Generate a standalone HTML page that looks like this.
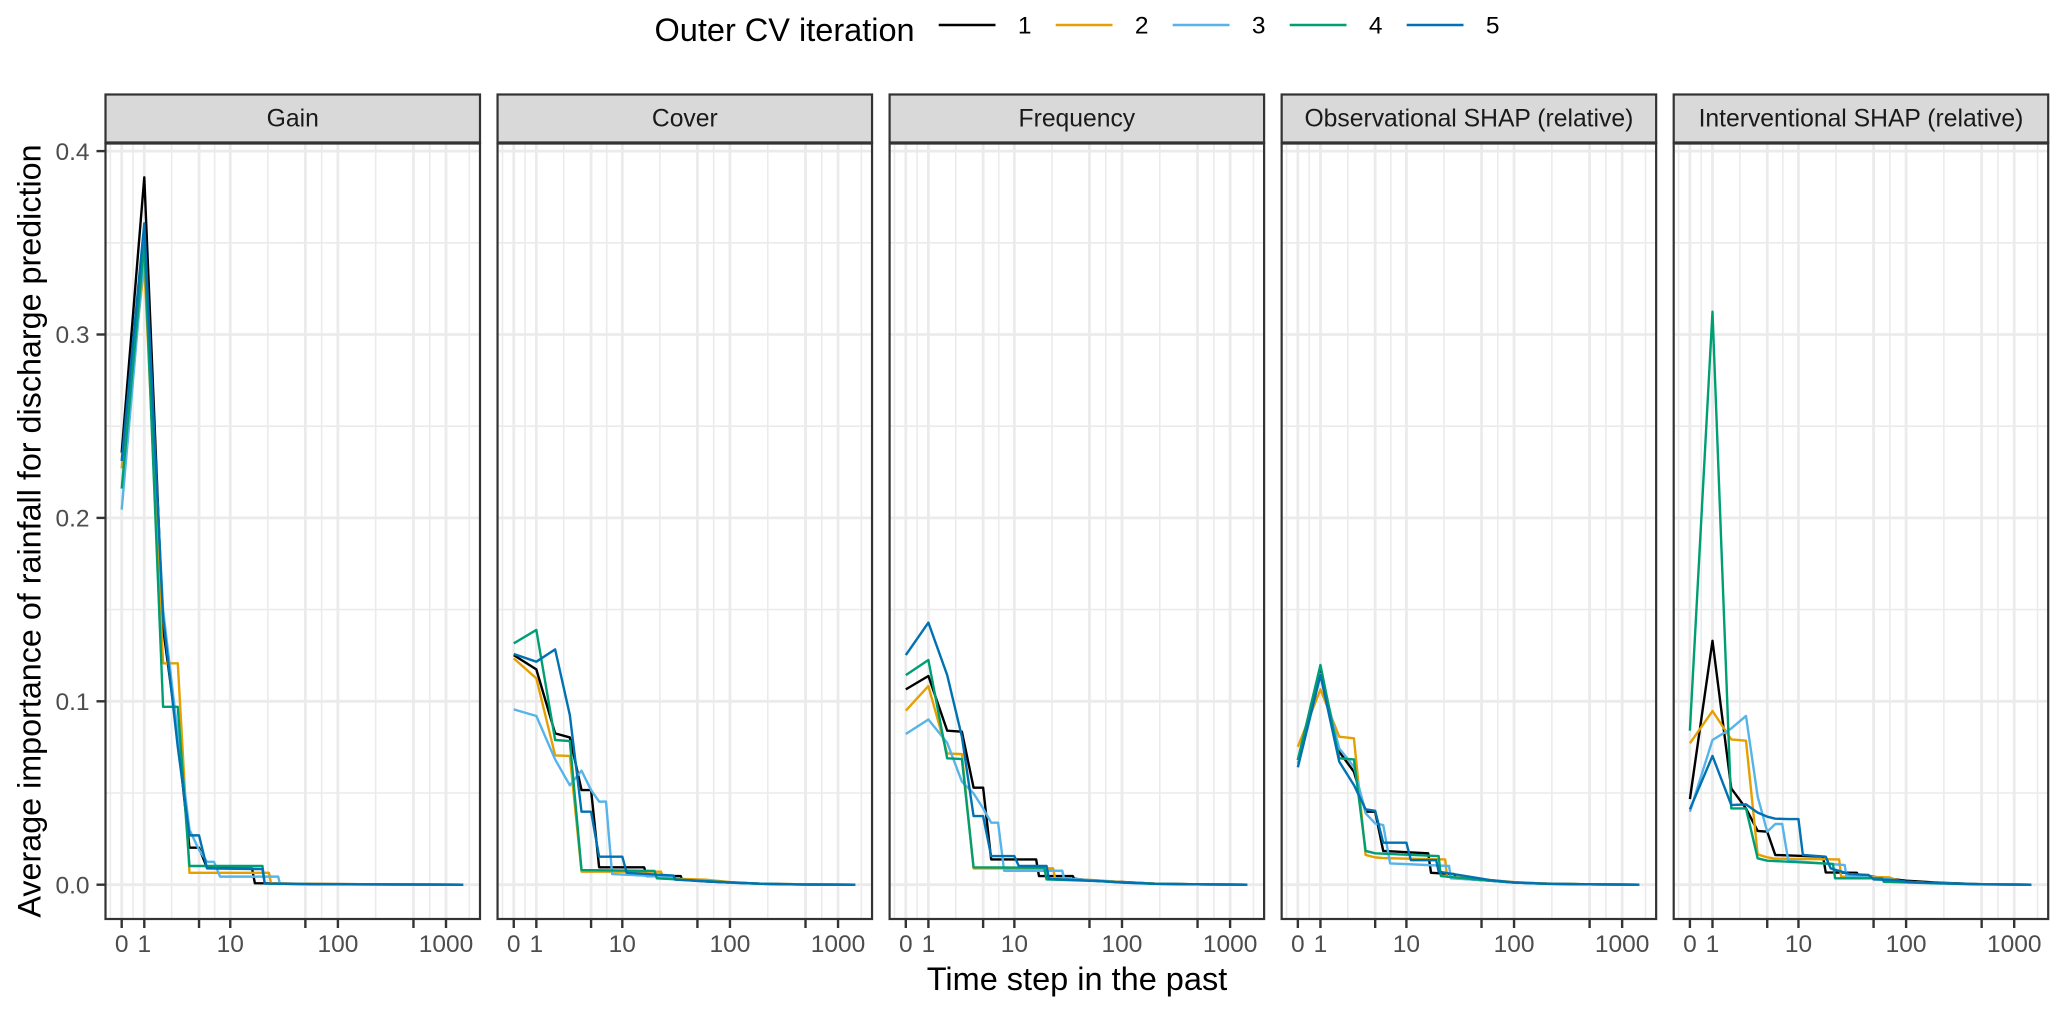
<!DOCTYPE html>
<html lang="en">
<head>
<meta charset="utf-8">
<title>Average importance of rainfall for discharge prediction</title>
<style>
html,body{margin:0;padding:0;background:#fff;}
svg{display:block;font-family:"Liberation Sans",Arial,sans-serif;}
</style>
</head>
<body>
<svg id="chart" xmlns="http://www.w3.org/2000/svg" width="2067" height="1014" viewBox="0 0 2067 1014">
  <text x="654.5" y="41" font-size="32.5" fill="#000">Outer CV iteration</text>
  <text x="1077" y="990" font-size="32.5" fill="#000" text-anchor="middle">Time step in the past</text>
  <text transform="translate(40.5 531) rotate(-90)" font-size="32.3" fill="#000" text-anchor="middle">Average importance of rainfall for discharge prediction</text>
  <g id="panels"></g>
  <g id="legend"></g>
</svg>
<script>
const seriesNames = ['1','2','3','4','5'];
const seriesColors = ['#000000','#E69F00','#56B4E9','#009E73','#0072B2'];
const panelTitles = ['Gain','Cover','Frequency','Observational SHAP (relative)','Interventional SHAP (relative)'];
const xTicks = [0,1,5,10,50,100,500,1000];
const xTickLabels = ['0','1','','10','','100','','1000'];
const yTicks = [0,0.1,0.2,0.3,0.4];
const yTickLabels = ['0.0','0.1','0.2','0.3','0.4'];
const yMinorTicks = [0.05,0.15,0.25,0.35];

const gainSteps1 = [0,1,2,3,4,5,6,16,17,60,1440];
const gainValues1 = [.2356,.3857,.14,.08,.0202,.0202,.0091,.0088,.0008,.0004,0];
const gainSteps2 = [0,1,2,3,4,23,24,60,1440];
const gainValues2 = [.227,.338,.1207,.1207,.0065,.0065,.0008,.0004,0];
const gainSteps3 = [0,1,2,3,4,5,6,7,8,28,29,60,1440];
const gainValues3 = [.2045,.345,.15,.082,.03,.019,.0125,.0125,.0044,.0044,.0006,.0003,0];
const gainSteps4 = [0,1,2,3,4,20,21,60,1440];
const gainValues4 = [.216,.35,.097,.097,.0102,.0102,.0006,.0003,0];
const gainSteps5 = [0,1,2,3,4,5,6,20,21,60,1440];
const gainValues5 = [.231,.3606,.146,.075,.0269,.0269,.0089,.0085,.0006,.0003,0];

const coverSteps1 = [0,1,2,3,4,5,6,16,17,35,36,60,100,200,500,1440];
const coverValues1 = [.1252,.1174,.0825,.0803,.0516,.0516,.0095,.0095,.0047,.0047,.0028,.0018,.0012,.0005,.0002,0];
const coverSteps2 = [0,1,2,3,4,23,24,60,100,200,500,1440];
const coverValues2 = [.1234,.1125,.0705,.0702,.0071,.0071,.0035,.0027,.0014,.0005,.0002,0];
const coverSteps3 = [0,1,2,3,4,5,6,7,8,30,31,60,100,200,500,1440];
const coverValues3 = [.0956,.092,.0683,.0542,.0622,.0516,.0453,.0453,.0058,.0042,.0028,.002,.0011,.0005,.0001,0];
const coverSteps4 = [0,1,2,3,4,20,21,60,100,200,500,1440];
const coverValues4 = [.1316,.1389,.0789,.0783,.008,.0075,.0035,.002,.0013,.0005,.0001,0];
const coverSteps5 = [0,1,2,3,4,5,6,10,11,30,31,60,100,200,500,1440];
const coverValues5 = [.1258,.1216,.1283,.0925,.0398,.0398,.0153,.0153,.0065,.005,.0028,.0018,.0012,.0005,.0001,0];

const frequencySteps1 = [0,1,2,3,4,5,6,16,17,35,36,60,100,200,500,1440];
const frequencyValues1 = [.1065,.1138,.084,.0834,.0529,.0529,.0138,.0138,.0047,.0047,.0033,.002,.0015,.0006,.0002,0];
const frequencySteps2 = [0,1,2,3,4,23,24,60,100,200,500,1440];
const frequencyValues2 = [.0949,.1083,.0716,.0712,.0089,.0089,.0035,.0024,.0014,.0006,.0002,0];
const frequencySteps3 = [0,1,2,3,4,5,6,7,8,28,29,60,100,200,500,1440];
const frequencyValues3 = [.0822,.0901,.0774,.0562,.0498,.0416,.0338,.0338,.0076,.0076,.0035,.0022,.0012,.0005,.0002,0];
const frequencySteps4 = [0,1,2,3,4,19,20,60,100,200,500,1440];
const frequencyValues4 = [.1143,.1225,.0689,.0685,.0095,.0092,.0029,.002,.0013,.0005,.0002,0];
const frequencySteps5 = [0,1,2,3,4,5,6,10,11,20,21,60,100,200,500,1440];
const frequencyValues5 = [.1252,.1429,.1143,.0807,.0374,.0374,.0156,.0156,.0102,.0102,.0032,.002,.0012,.0005,.0002,0];

const observationalSteps1 = [0,1,2,3,4,5,6,16,17,28,29,60,100,200,500,1440];
const observationalValues1 = [.068,.117,.0725,.0616,.0398,.0398,.0184,.0171,.0065,.0058,.0035,.0022,.0012,.0006,.0002,0];
const observationalSteps2 = [0,1,2,3,4,5,6,23,24,60,100,200,500,1440];
const observationalValues2 = [.0752,.1065,.0807,.0798,.0162,.0149,.0145,.0138,.0044,.0025,.0014,.0006,.0002,0];
const observationalSteps3 = [0,1,2,3,4,5,6,7,25,26,60,100,200,500,1440];
const observationalValues3 = [.066,.115,.0743,.0643,.0389,.0334,.0325,.0116,.0102,.0035,.0022,.0012,.0005,.0002,0];
const observationalSteps4 = [0,1,2,3,4,5,20,21,60,100,200,500,1440];
const observationalValues4 = [.068,.1198,.0689,.0683,.0184,.0171,.0156,.0047,.0022,.0012,.0005,.0002,0];
const observationalSteps5 = [0,1,2,3,4,5,6,10,11,19,20,60,100,200,500,1440];
const observationalValues5 = [.064,.1143,.0671,.0543,.0411,.0403,.0229,.0229,.0134,.0134,.0071,.0025,.0012,.0005,.0002,0];

const interventionalSteps1 = [0,1,2,3,4,5,6,17,18,35,36,100,200,500,1440];
const interventionalValues1 = [.0467,.133,.0525,.0416,.0293,.0289,.0162,.0153,.0067,.0065,.0053,.0022,.0011,.0003,0];
const interventionalSteps2 = [0,1,2,3,4,5,6,24,25,70,90,200,500,1440];
const interventionalValues2 = [.0771,.0947,.0792,.0785,.0165,.0149,.0142,.0138,.0044,.004,.0016,.0008,.0003,0];
const interventionalSteps3 = [0,1,2,3,4,5,6,7,8,27,28,60,100,200,500,1440];
const interventionalValues3 = [.0398,.0789,.0852,.092,.048,.0289,.0331,.0331,.0131,.0107,.0047,.0035,.0016,.0008,.0003,0];
const interventionalSteps4 = [0,1,2,3,4,5,21,22,60,62,200,500,1440];
const interventionalValues4 = [.084,.3124,.0416,.0416,.0144,.0131,.0113,.0035,.0035,.0016,.0007,.0002,0];
const interventionalSteps5 = [0,1,2,3,4,5,6,8,10,11,18,20,30,45,50,80,100,200,500,1440];
const interventionalValues5 = [.0411,.0702,.0434,.0438,.0393,.0371,.036,.0358,.0358,.0162,.0153,.0089,.0058,.0053,.0029,.0025,.0016,.0008,.0002,0];

const panelSteps = [
  [gainSteps1,gainSteps2,gainSteps3,gainSteps4,gainSteps5],
  [coverSteps1,coverSteps2,coverSteps3,coverSteps4,coverSteps5],
  [frequencySteps1,frequencySteps2,frequencySteps3,frequencySteps4,frequencySteps5],
  [observationalSteps1,observationalSteps2,observationalSteps3,observationalSteps4,observationalSteps5],
  [interventionalSteps1,interventionalSteps2,interventionalSteps3,interventionalSteps4,interventionalSteps5]
];
const panelValues = [
  [gainValues1,gainValues2,gainValues3,gainValues4,gainValues5],
  [coverValues1,coverValues2,coverValues3,coverValues4,coverValues5],
  [frequencyValues1,frequencyValues2,frequencyValues3,frequencyValues4,frequencyValues5],
  [observationalValues1,observationalValues2,observationalValues3,observationalValues4,observationalValues5],
  [interventionalValues1,interventionalValues2,interventionalValues3,interventionalValues4,interventionalValues5]
];

const NS = 'http://www.w3.org/2000/svg';
const AXIS_LEFT = 105.5, PANEL_W = 374.5, PANEL_STEP = 392.05;
const PANEL_TOP = 143, PANEL_BOTTOM = 919, STRIP_TOP = 94.5;
const X_ORIGIN_OFFSET = 16.2, X_PER_UNIT = 108.1;
const Y_ZERO = 884.7, Y_PER_UNIT = 1834;

function pseudoLog(step){ return Math.asinh(step / 2) / Math.LN10; }
function panelLeft(k){ return AXIS_LEFT + k * PANEL_STEP; }
function xFromTrans(t, k){ return panelLeft(k) + X_ORIGIN_OFFSET + X_PER_UNIT * t; }
function xScale(step, k){ return xFromTrans(pseudoLog(step), k); }
function yScale(v){ return Y_ZERO - Y_PER_UNIT * v; }

function make(tag, attrs, parent){
  const el = document.createElementNS(NS, tag);
  for (const key in attrs) el.setAttribute(key, attrs[key]);
  parent.appendChild(el);
  return el;
}

const panelsRoot = document.getElementById('panels');
const legendRoot = document.getElementById('legend');

function minorTrans(){
  const t = xTicks.map(pseudoLog);
  const out = [(t[0] - (t[1] - t[0]) / 2)];
  for (let i = 0; i < t.length - 1; i++) out.push((t[i] + t[i + 1]) / 2);
  out.push(t[t.length - 1] + 0.216);
  return out;
}

panelTitles.forEach(function(title, k){
  const g = make('g', {}, panelsRoot);
  
  
  const left = panelLeft(k);

  const bg = make('rect', {x:left, y:PANEL_TOP, width:PANEL_W, height:PANEL_BOTTOM - PANEL_TOP, fill:'#fff'}, g);
  
  

  yMinorTicks.forEach(function(v){
    const ln = make('line', {x1:left, x2:left + PANEL_W, y1:yScale(v), y2:yScale(v), stroke:'#ebebeb', 'stroke-width':1.6}, g);
    
    
  });
  minorTrans().forEach(function(t){
    const ln = make('line', {x1:xFromTrans(t, k), x2:xFromTrans(t, k), y1:PANEL_TOP, y2:PANEL_BOTTOM, stroke:'#ebebeb', 'stroke-width':1.6}, g);
    
    
  });
  yTicks.forEach(function(v){
    const ln = make('line', {x1:left, x2:left + PANEL_W, y1:yScale(v), y2:yScale(v), stroke:'#ebebeb', 'stroke-width':2.8}, g);
    
    
  });
  xTicks.forEach(function(s){
    const ln = make('line', {x1:xScale(s, k), x2:xScale(s, k), y1:PANEL_TOP, y2:PANEL_BOTTOM, stroke:'#ebebeb', 'stroke-width':2.8}, g);
    
    
  });

  seriesNames.forEach(function(name, i){
    const steps = panelSteps[k][i];
    const values = panelValues[k][i];
    const pts = steps.map(function(s, j){ return xScale(s, k).toFixed(2) + ',' + yScale(values[j]).toFixed(2); }).join(' ');
    const line = make('polyline', {points:pts, fill:'none', stroke:seriesColors[i], 'stroke-width':2.4, 'stroke-linejoin':'round'}, g);
    
    
  });

  const border = make('rect', {x:left, y:PANEL_TOP, width:PANEL_W, height:PANEL_BOTTOM - PANEL_TOP, fill:'none', stroke:'#333', 'stroke-width':2.2}, g);
  
  

  const strip = make('rect', {x:left, y:STRIP_TOP, width:PANEL_W, height:PANEL_TOP - STRIP_TOP, fill:'#d9d9d9', stroke:'#333', 'stroke-width':2.2}, g);
  
  
  const stripEdge = make('line', {x1:left, x2:left + PANEL_W, y1:PANEL_TOP, y2:PANEL_TOP, stroke:'#333', 'stroke-width':3.2}, g);
  
  
  const stripText = make('text', {x:left + PANEL_W / 2, y:126.7, 'font-size':24.7, fill:'#1a1a1a', 'text-anchor':'middle'}, g);
  stripText.textContent = title;
  
  

  xTicks.forEach(function(s, j){
    const x = xScale(s, k);
    const tick = make('line', {x1:x, x2:x, y1:PANEL_BOTTOM, y2:PANEL_BOTTOM + 9, stroke:'#333', 'stroke-width':2.4}, g);
    
    
    if (xTickLabels[j]) {
      const lab = make('text', {x:x, y:952, 'font-size':24.5, fill:'#4d4d4d', 'text-anchor':'middle'}, g);
      lab.textContent = xTickLabels[j];
      
      
    }
  });

  if (k === 0) {
    yTicks.forEach(function(v, j){
      const y = yScale(v);
      const tick = make('line', {x1:left - 9, x2:left, y1:y, y2:y, stroke:'#333', 'stroke-width':2.4}, g);
      
      
      const lab = make('text', {x:89.5, y:y + 8.7, 'font-size':24.5, fill:'#4d4d4d', 'text-anchor':'end'}, g);
      lab.textContent = yTickLabels[j];
      
      
    });
  }
});

seriesNames.forEach(function(name, i){
  const keyX = 938.7 + i * 117;
  const entry = make('g', {}, legendRoot);
  
  
  const key = make('line', {x1:keyX, x2:keyX + 56.8, y1:25, y2:25, stroke:seriesColors[i], 'stroke-width':2.4}, entry);
  
  
  const lab = make('text', {x:keyX + 86, y:33.5, 'font-size':24.5, fill:'#000', 'text-anchor':'middle'}, entry);
  lab.textContent = name;
  
  
});
</script>
</body>
</html>
